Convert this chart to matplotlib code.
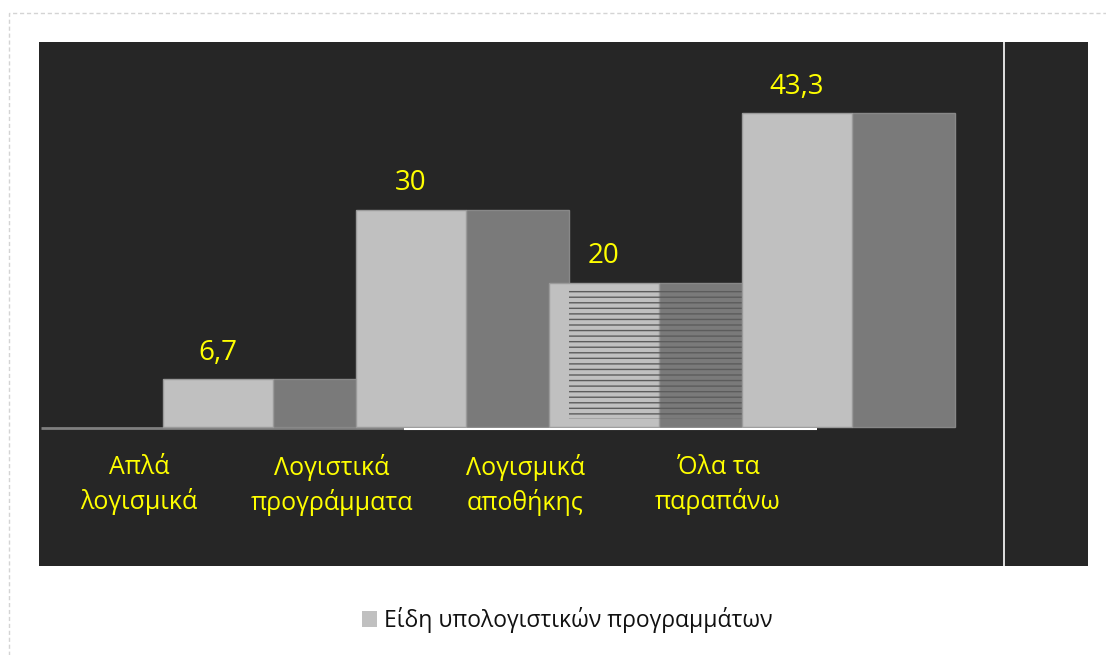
import matplotlib
matplotlib.use("Agg")
import matplotlib.pyplot as plt
from matplotlib.patches import Rectangle, Patch

plt.rcParams['font.family'] = ['Open Sans', 'DejaVu Sans']

# Data
categories = ["Απλά\nλογισμικά", "Λογιστικά\nπρογράμματα", "Λογισμικά\nαποθήκης", "Όλα τα\nπαραπάνω"]
values = [6.7, 30, 20, 43.3]
series_name = "Είδη υπολογιστικών προγραμμάτων"

# Styling
PANEL = '#262626'
FRONT = '#c0c0c0'
SIDE = '#7a7a7a'
EDGE = '#9a9a9a'
LABEL = '#ffff00'

W, H = 1106, 655
fig = plt.figure(figsize=(W / 100, H / 100), dpi=100)
fig.patch.set_facecolor('white')

# dashed frame around the chart area
fig.add_artist(Rectangle((9 / W, -0.1), 1.2, (H - 13) / H + 0.1,
                         transform=fig.transFigure, fill=False,
                         edgecolor='#d4d4d4', lw=1, ls=(0, (3, 2))))

ax = fig.add_axes([39 / W, 1 - 566 / H, (1088 - 39) / W, (566 - 42) / H])
ax.set_facecolor(PANEL)
for s in ax.spines.values():
    s.set_visible(False)
ax.set_xticks([])
ax.set_yticks([])

# horizontal scale: one category step = 193 px, first category centre at x=139 px
ax.set_xlim((39 - 139) / 193, (1088 - 139) / 193)
# vertical scale: 7.27 px per unit, zero line at y=428 px
ax.set_ylim(-(566 - 428) / 7.27, (428 - 42) / 7.27)

FRONT_OFF = 0.124   # front face starts right of the category centre
FRONT_W = 0.570
SIDE_W = 0.534

for i, v in enumerate(values):
    x0 = i + FRONT_OFF
    ax.add_patch(Rectangle((x0 + FRONT_W, 0.15), SIDE_W, v - 0.15,
                           facecolor=SIDE, edgecolor='#888888', lw=1, zorder=2 + i))
    ax.add_patch(Rectangle((x0, 0.15), FRONT_W, v - 0.15,
                           facecolor=FRONT, edgecolor=EDGE, lw=1, zorder=2 + i))
    if i == 2:
        # striped band across the third bar, starting where the previous side ends
        hx0 = (i - 1) + FRONT_OFF + FRONT_W + SIDE_W
        hx1 = x0 + FRONT_W + SIDE_W
        ax.add_patch(Rectangle((hx0, 1.3), hx1 - hx0, v - 0.75 - 1.3,
                               facecolor='none', edgecolor='#5c5c5c', hatch='---',
                               lw=0, zorder=2 + i))
    label = f"{v:g}".replace('.', ',')
    ax.annotate(label, xy=(x0 + FRONT_W / 2, v), xytext=(0, 14),
                textcoords='offset points', ha='center', va='baseline',
                color=LABEL, fontsize=20, zorder=10)

# zero line
ax.plot([(41 - 139) / 193, (405 - 139) / 193], [-0.05, -0.05],
        color='#7f7f7f', lw=2, zorder=1, solid_capstyle='butt')
ax.plot([(404 - 139) / 193, (817 - 139) / 193], [-0.1, -0.1],
        color='white', lw=1.5, zorder=20, solid_capstyle='butt')

# vertical divider on the right of the plot area
ax.axvline((1003.5 - 139) / 193, color='white', lw=1.2, zorder=1)

# category labels
for i, c in enumerate(categories):
    ax.text(i, -(485 - 428) / 7.27, c, ha='center', va='center',
            color=LABEL, fontsize=18, linespacing=1.4)

fig.legend(handles=[Patch(facecolor=FRONT, edgecolor='none')], labels=[series_name],
           loc='center', bbox_to_anchor=(567 / W, 1 - 620 / H), frameon=False,
           fontsize=16.5, handlelength=0.65, handleheight=0.65, handletextpad=0.3,
           labelcolor='#111111')

fig.savefig('out.png', dpi=100, facecolor='white')
